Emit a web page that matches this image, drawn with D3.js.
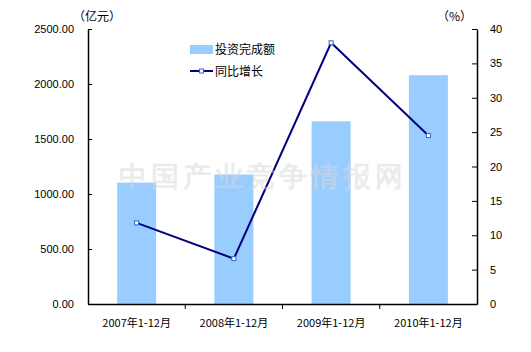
<!DOCTYPE html>
<html>
<head>
<meta charset="utf-8">
<script src="https://cdn.jsdelivr.net/npm/d3@7"></script>
<style>
  body { margin: 0; background: #fff; }
  text { font-family: "Liberation Sans", Arial, sans-serif; }
  .cjk { font-family: "Noto Sans CJK SC", sans-serif; }
</style>
</head>
<body>
<div id="chart"></div>
<script>
// data
const categories = ["2007年1-12月", "2008年1-12月", "2009年1-12月", "2010年1-12月"];
const investment = [1104, 1177, 1661, 2080];   // 投资完成额 (亿元)
const growth = [11.8, 6.6, 38.0, 24.5];         // 同比增长 (%)
const leftTicks = [0, 500, 1000, 1500, 2000, 2500];
const rightTicks = [0, 5, 10, 15, 20, 25, 30, 35, 40];

const W = 531, H = 352;
const margin = { top: 29, right: 54, bottom: 48, left: 88 };
const width = W - margin.left - margin.right,
    height = H - margin.top - margin.bottom;

const svg = d3.select("#chart").append("svg")
    .attr("width", W)
    .attr("height", H);

const g = svg.append("g")
    .attr("transform", "translate(" + margin.left + "," + margin.top + ")");

// scales
const xb = d3.scaleBand().domain(categories).range([0, width]);
const yL = d3.scaleLinear().domain([0, 2500]).range([height, 0]);
const yR = d3.scaleLinear().domain([0, 40]).range([height, 0]);

// bars
g.selectAll(".bar")
    .data(investment)
    .enter().append("rect")
    .attr("class", "bar")
    .attr("x", (d, i) => xb(categories[i]) + xb.bandwidth() / 2 - 19.5)
    .attr("width", 39)
    .attr("y", d => yL(d))
    .attr("height", d => height - yL(d))
    .attr("fill", "#99ccff");

// watermark (sits over the bars)
svg.append("text")
    .attr("x", 263).attr("y", 186)
    .attr("text-anchor", "middle")
    .attr("font-family", "'Noto Sans CJK SC', serif")
    .attr("font-weight", "bold")
    .attr("font-size", 28)
    .attr("letter-spacing", 4)
    .attr("fill", "#d8d8d8")
    .attr("fill-opacity", 0.5)
    .text("中国产业竞争情报网");

// line
const line = d3.line()
    .x((d, i) => xb(categories[i]) + xb.bandwidth() / 2)
    .y(d => yR(d));

g.append("path")
    .datum(growth)
    .attr("d", line)
    .attr("fill", "none")
    .attr("stroke", "#000080")
    .attr("stroke-width", 2);

g.selectAll(".pt")
    .data(growth)
    .enter().append("rect")
    .attr("class", "pt")
    .attr("x", (d, i) => xb(categories[i]) + xb.bandwidth() / 2 - 2)
    .attr("y", d => yR(d) - 2)
    .attr("width", 4).attr("height", 4)
    .attr("fill", "#fff")
    .attr("stroke", "#3366cc")
    .attr("stroke-width", 1);

// axes
const yAxisL = d3.axisLeft(yL).tickValues(leftTicks).tickFormat(d3.format(".2f")).tickSizeInner(-4).tickSizeOuter(0).tickPadding(14);
const yAxisR = d3.axisRight(yR).tickValues(rightTicks).tickSizeInner(-5).tickSizeOuter(0).tickPadding(13);
const xAxis = d3.axisBottom(xb).tickSize(0).tickPadding(15);

const gL = g.append("g").call(yAxisL);
const gR = g.append("g").attr("transform", "translate(" + width + ",0)").call(yAxisR);
const gX = g.append("g").attr("transform", "translate(0," + height + ")").call(xAxis);

// x ticks at band boundaries
gX.selectAll(".bound")
    .data(categories.slice(1))
    .enter().append("line")
    .attr("x1", d => xb(d)).attr("x2", d => xb(d))
    .attr("y1", 0).attr("y2", 5)
    .attr("stroke", "#000");

[gL, gR, gX].forEach(a => {
    a.select(".domain").attr("stroke", "#000").attr("stroke-width", 1.5);
    a.selectAll(".tick line").attr("stroke", "#000");
    a.selectAll(".tick text").attr("font-size", 11).attr("fill", "#000");
});
gX.selectAll(".tick text").attr("class", "cjk").attr("font-size", 11);

// units
svg.append("text").attr("class", "cjk").attr("x", 73).attr("y", 21)
    .attr("font-size", 12).text("（亿元）");
svg.append("text").attr("class", "cjk").attr("x", 437).attr("y", 21)
    .attr("font-size", 12).text("（%）");

// legend
const lg = svg.append("g").attr("transform", "translate(190,45)");
lg.append("rect").attr("x", 0).attr("y", 0).attr("width", 23).attr("height", 9).attr("fill", "#99ccff");
lg.append("text").attr("class", "cjk").attr("x", 25).attr("y", 9).attr("font-size", 12).text("投资完成额");
lg.append("line").attr("x1", 0).attr("x2", 23).attr("y1", 26).attr("y2", 26)
    .attr("stroke", "#000080").attr("stroke-width", 2);
lg.append("rect").attr("x", 9.5).attr("y", 24).attr("width", 4).attr("height", 4)
    .attr("fill", "#fff").attr("stroke", "#3366cc");
lg.append("text").attr("class", "cjk").attr("x", 25).attr("y", 31).attr("font-size", 12).text("同比增长");
</script>
</body>
</html>
